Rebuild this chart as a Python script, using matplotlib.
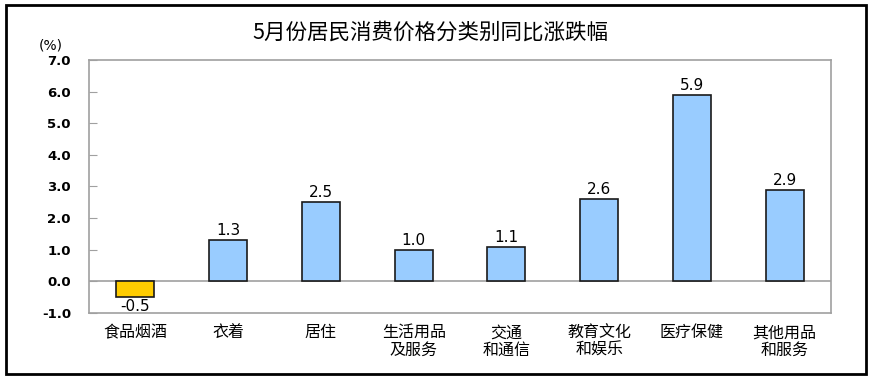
import matplotlib.pyplot as plt
from matplotlib.patches import Rectangle
import numpy as np

plt.rcParams['font.family'] = ['Noto Sans CJK SC', 'DejaVu Sans']

title = '5月份居民消费价格分类别同比涨跌幅'
categories = ['食品烟酒', '衣着', '居住', '生活用品\n及服务', '交通\n和通信',
              '教育文化\n和娱乐', '医疗保健', '其他用品\n和服务']
values = [-0.5, 1.3, 2.5, 1.0, 1.1, 2.6, 5.9, 2.9]
yticks = [-1.0, 0.0, 1.0, 2.0, 3.0, 4.0, 5.0, 6.0, 7.0]

fig = plt.figure(figsize=(8.7, 3.79), dpi=100)
ax = fig.add_axes([0.1023, 0.174, 0.853, 0.668])

x = np.arange(len(values))
colors = ['#FFCC00' if v < 0 else '#99CCFF' for v in values]
ax.bar(x, values, 0.41, color=colors, edgecolor='#1a1a1a', linewidth=1.2, zorder=3)

for xi, v in zip(x, values):
    if v < 0:
        ax.text(xi, v - 0.06, '%.1f' % v, ha='center', va='top', fontsize=11, family='DejaVu Sans')
    else:
        ax.text(xi, v + 0.06, '%.1f' % v, ha='center', va='bottom', fontsize=11, family='DejaVu Sans')

ax.axhline(0, color='#a0a0a0', linewidth=1.2, zorder=2)
ax.set_xlim(-0.5, len(values) - 0.5)
ax.set_ylim(-1.0, 7.0)
ax.set_yticks(yticks)
ax.set_yticklabels(['%.1f' % t for t in yticks], fontsize=9.5, fontweight='bold', family='DejaVu Sans')
ax.tick_params(axis='y', direction='in', length=6, color='#a0a0a0', pad=13)
ax.set_xticks(x)
ax.set_xticklabels(categories, fontsize=11.5, linespacing=1.05)
ax.tick_params(axis='x', length=0, pad=8)
for s in ax.spines.values():
    s.set_color('#a0a0a0')
    s.set_linewidth(1.2)

fig.text(0.0586, 0.881, '(%)', fontsize=10, ha='center', va='center', family='DejaVu Sans')
fig.text(0.495, 0.913, title, fontsize=15.5, ha='center', va='center', fontweight='medium')

fig.patches.append(Rectangle((6 / 870, 5 / 379), 860 / 870, 369 / 379, transform=fig.transFigure,
                             fill=False, edgecolor='black', linewidth=2))

plt.savefig('out.png', dpi=100)
